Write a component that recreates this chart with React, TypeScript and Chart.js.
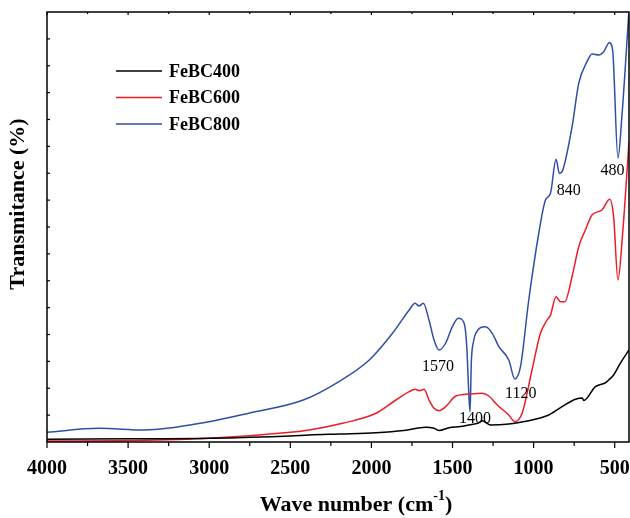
import React, { useEffect, useRef } from 'react';
import { Chart, registerables } from 'chart.js';

Chart.register(...registerables);

// ---------- data ----------
const seriesLabels = ['FeBC400', 'FeBC600', 'FeBC800'];
const seriesColors = ['#000000', '#ee1c25', '#2f4fa5'];

const wnBC400 = [4000, 3500, 3000, 2500, 2383, 2200, 1972, 1800, 1665, 1614, 1583, 1521, 1450, 1398, 1340, 1317, 1290, 1265, 1153, 1030, 960, 907, 825, 742, 700, 691, 619, 560, 537, 507, 466, 412];
const tBC400 = [2.7, 3.2, 3.7, 6, 7, 8, 9.3, 11.5, 14.7, 13.7, 11.5, 14.3, 15.5, 17, 19, 21.3, 19, 17, 18, 21.3, 24, 27, 35.3, 42.7, 44, 41.5, 55.3, 59, 62, 67, 78.7, 92];

const wnBC600 = [4000, 3500, 3000, 2500, 2383, 2178, 1972, 1849, 1767, 1731, 1706, 1675, 1645, 1614, 1583, 1542, 1480, 1398, 1317, 1276, 1224, 1153, 1116, 1071, 1010, 958, 917, 896, 862, 835, 808, 763, 722, 681, 640, 579, 531, 507, 480, 451, 412];
const tBC600 = [1, 1.5, 3.7, 9.7, 12, 18.7, 28.7, 42, 50.3, 52.7, 51.3, 52.7, 42, 33.7, 31.3, 35.3, 46, 48, 48.7, 46, 37, 27, 20.3, 28.7, 72, 108.7, 122, 127, 145.3, 140.3, 140.3, 165.3, 195.3, 212, 227, 232, 242.7, 225.3, 162, 209, 300];

const wnBC800 = [4000, 3680, 3400, 3000, 2750, 2420, 2218, 2013, 1870, 1767, 1731, 1706, 1680, 1645, 1614, 1583, 1542, 1501, 1464, 1429, 1412, 1400, 1392, 1384, 1370, 1357, 1296, 1255, 1214, 1153, 1116, 1081, 1030, 968, 927, 896, 862, 841, 820, 763, 722, 671, 640, 599, 568, 533, 513, 480, 456, 412];
const tBC800 = [9.7, 13.7, 12, 20.3, 29, 42, 58.7, 82, 108.7, 132, 138.7, 136, 138.7, 122, 102, 92, 99, 115.3, 123.7, 119, 95, 50, 30.3, 80, 101, 108.7, 115.3, 108.7, 95.3, 82, 63, 75.3, 142, 209, 242, 248.7, 282.7, 268.7, 272, 315.3, 358.7, 380.3, 388, 387, 390.3, 399.3, 392, 283.7, 325.3, 432];

const xTickValues = [4000, 3500, 3000, 2500, 2000, 1500, 1000, 500];
const xMinorStep = 250;
const xMin = 412;
const xMax = 4000;
const yMin = 0;
const yMax = 430;
const yMinorCount = 16;

const peakLabels = ['1570', '1400', '1120', '840', '480'];
const peakX = [1590, 1362, 1079, 783, 513];
const peakY = [75, 23, 48, 251, 271];

const xTitle = 'Wave number (cm';
const xTitleSup = '-1';
const yTitle = 'Transmitance (%)';

const SERIF = '"Liberation Serif", "Times New Roman", "DejaVu Serif", serif';

function toPoints(xs: number[], ys: number[]) {
  return xs.map((x, i) => ({ x, y: ys[i] }));
}

const decorPlugin = {
  id: 'decor',
  afterDatasetsDraw(chart: any) {
    const { ctx, chartArea } = chart;
    const xs = chart.scales.x;
    const ys = chart.scales.y;
    const { left, right, top, bottom } = chartArea;
    ctx.save();
    // frame
    ctx.strokeStyle = '#000';
    ctx.lineWidth = 1.5;
    ctx.strokeRect(left, top, right - left, bottom - top);
    // x ticks
    ctx.lineWidth = 1.2;
    for (let v = xMax; v >= xMin; v -= xMinorStep) {
      const px = xs.getPixelForValue(v);
      const major = v % 500 === 0;
      ctx.beginPath();
      ctx.moveTo(px, bottom);
      ctx.lineTo(px, bottom + (major ? 6 : 4));
      ctx.moveTo(px, top);
      ctx.lineTo(px, top + (major ? 3 : 2));
      ctx.stroke();
    }
    // y minor ticks (inward)
    for (let i = 1; i < yMinorCount; i++) {
      const py = ys.getPixelForValue(yMin + ((yMax - yMin) * i) / yMinorCount);
      ctx.beginPath();
      ctx.moveTo(left, py);
      ctx.lineTo(left + 3, py);
      ctx.stroke();
    }
    // legend
    ctx.font = `bold 18px ${SERIF}`;
    ctx.textBaseline = 'middle';
    ctx.textAlign = 'left';
    chart.data.datasets.forEach((ds: any, i: number) => {
      const y = 71 + i * 26.5;
      ctx.strokeStyle = ds.borderColor;
      ctx.lineWidth = 1.5;
      ctx.beginPath();
      ctx.moveTo(116, y);
      ctx.lineTo(162, y);
      ctx.stroke();
      ctx.fillStyle = '#000';
      ctx.fillText(ds.label, 169, y + 1);
    });
    // peak labels
    ctx.font = `16px ${SERIF}`;
    ctx.textAlign = 'center';
    ctx.fillStyle = '#000';
    peakLabels.forEach((t, i) => {
      ctx.fillText(t, xs.getPixelForValue(peakX[i]), ys.getPixelForValue(peakY[i]));
    });
    // x title
    ctx.font = `bold 22px ${SERIF}`;
    const supFont = `bold 14px ${SERIF}`;
    const w1 = ctx.measureText(xTitle).width;
    ctx.font = supFont;
    const w2 = ctx.measureText(xTitleSup).width;
    ctx.font = `bold 22px ${SERIF}`;
    const w3 = ctx.measureText(')').width;
    const total = w1 + w2 + w3;
    const cx = 356;
    const sx = cx - total / 2;
    const ty = 505;
    ctx.textAlign = 'left';
    ctx.fillText(xTitle, sx, ty);
    ctx.font = supFont;
    ctx.fillText(xTitleSup, sx + w1, ty - 9);
    ctx.font = `bold 22px ${SERIF}`;
    ctx.fillText(')', sx + w1 + w2, ty);
    // y title
    ctx.translate(18, 204);
    ctx.rotate(-Math.PI / 2);
    ctx.textAlign = 'center';
    ctx.font = `bold 22px ${SERIF}`;
    ctx.fillText(yTitle, 0, 0);
    ctx.restore();
  },
};

export default function App() {
  const ref = useRef<HTMLCanvasElement | null>(null);
  useEffect(() => {
    if (!ref.current) return;
    const xsData = [wnBC400, wnBC600, wnBC800];
    const ysData = [tBC400, tBC600, tBC800];
    const chart = new Chart(ref.current, {
      type: 'line',
      data: {
        datasets: seriesLabels.map((label, i) => ({
          label,
          data: toPoints(xsData[i], ysData[i]),
          borderColor: seriesColors[i],
          borderWidth: 1.5,
          pointRadius: 0,
          fill: false,
          cubicInterpolationMode: 'monotone' as const,
        })),
      },
      options: {
        animation: false,
        responsive: false,
        maintainAspectRatio: false,
        layout: { padding: { top: 12, right: 1, left: 0, bottom: 0 } },
        plugins: { legend: { display: false }, tooltip: { enabled: false } },
        scales: {
          x: {
            type: 'linear',
            reverse: true,
            min: xMin,
            max: xMax,
            afterBuildTicks: (scale: any) => {
              scale.ticks = xTickValues.map((v) => ({ value: v }));
            },
            afterFit: (scale: any) => {
              scale.height = 76;
              scale.paddingLeft = 0;
              scale.paddingRight = 0;
            },
            grid: { display: false, drawTicks: false },
            border: { display: false },
            ticks: {
              color: '#000',
              font: { family: SERIF, size: 20, weight: 'bold' },
              padding: 15,
              maxRotation: 0,
              autoSkip: false,
              callback: (v: any) => String(v),
            },
          },
          y: {
            type: 'linear',
            min: yMin,
            max: yMax,
            afterFit: (scale: any) => {
              scale.width = 47;
            },
            grid: { display: false, drawTicks: false },
            border: { display: false },
            ticks: { display: false },
          },
        },
      },
      plugins: [decorPlugin],
    } as any);
    return () => chart.destroy();
  }, []);
  return (
    <div style={{ position: 'absolute', left: 0, top: 0, width: 630, height: 518, background: '#fff' }}>
      <canvas ref={ref} width={630} height={518} style={{ width: 630, height: 518 }} />
    </div>
  );
}
